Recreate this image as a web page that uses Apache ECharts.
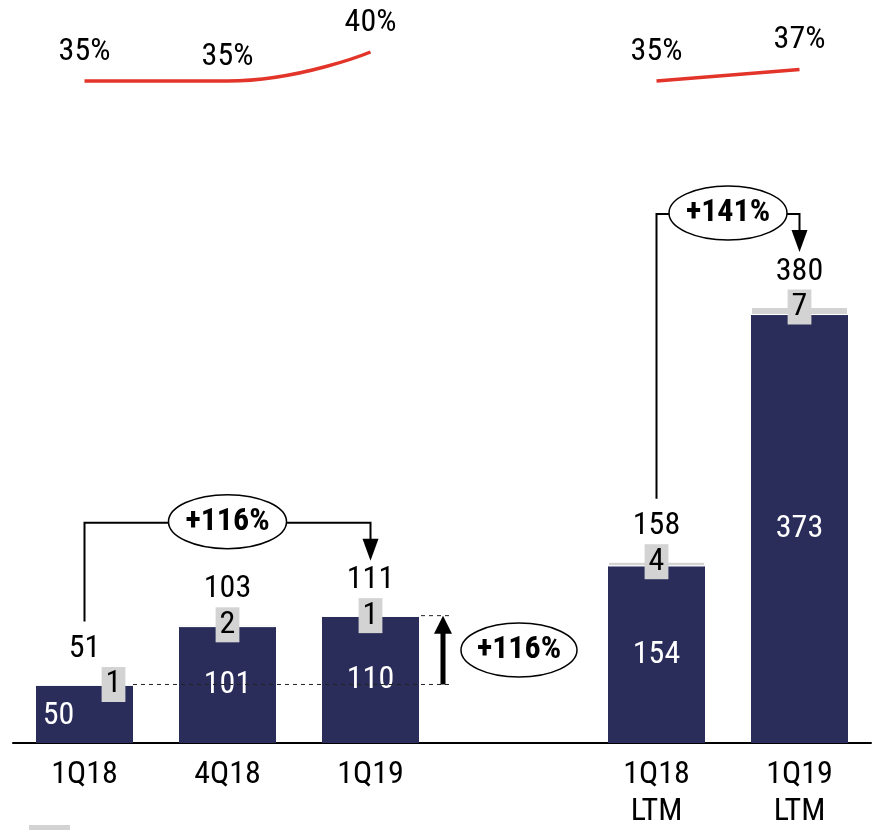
<!DOCTYPE html>
<html>
<head>
<meta charset="utf-8">
<script src="https://cdn.jsdelivr.net/npm/echarts@6/dist/echarts.min.js"></script>
<style>
html,body{margin:0;padding:0;background:#fff;}
#chart{width:875px;height:830px;}
</style>
</head>
<body>
<div id="chart"></div>
<script>
// ---- data ----
const categories = ['1Q18', '4Q18', '1Q19', '', '1Q18\nLTM', '1Q19\nLTM'];
const coreValues = [50, 101, 110, null, 154, 373];
const otherValues = [1, 2, 1, null, 4, 7];
const totalValues = [51, 103, 111, null, 158, 380];
const marginPct = [35, 35, 40, null, 35, 37];
const growthQuarter = '+116%';
const growthLTM = '+141%';
const growthSide = '+116%';

// ---- styles ----
const FONT = "Roboto, 'Open Sans', sans-serif";
const NARROW = 'normal condensed';   // canvas font-stretch via the weight slot
const FS = 32;
const NAVY = '#2a2c5a';
const GREY = '#d3d3d3';
const RED = '#e3342a';

const chart = echarts.init(document.getElementById('chart'), null, {renderer: 'canvas'});

const coreData = coreValues.map((v, i) => {
  if (v == null) return '-';
  const item = {value: v};
  if (i === 0) item.label = {offset: [-26, 2]};
  return item;
});
const otherData = otherValues.map((v, i) => {
  if (v == null) return '-';
  const item = {value: v};
  if (i === 0) item.label = {offset: [29, 0]};
  return item;
});
const marginLblData = marginPct.map((v, i) => {
  if (v == null) return '-';
  const item = {value: v};
  if (i === 1) item.label = {offset: [0, 5]};
  return item;
});

const txt = (extra) => Object.assign({fontSize: FS, fontFamily: FONT, fontWeight: NARROW, color: '#000'}, extra || {});

const option = {
  animation: false,
  backgroundColor: '#ffffff',
  textStyle: {fontFamily: FONT},
  legend: {
    left: 27, top: 823, padding: 0, itemWidth: 43, itemHeight: 14, icon: 'rect',
    data: ['Other'], formatter: () => ' ', selectedMode: false
  },
  grid: [
    {left: 13, right: 4, top: 307, bottom: 86},
    {left: 13, right: 4, top: 23, height: 87}
  ],
  xAxis: [
    {
      type: 'category', gridIndex: 0, data: categories,
      axisLine: {lineStyle: {color: '#000', width: 2}},
      axisTick: {show: false},
      axisLabel: txt({lineHeight: 37, margin: 13, interval: 0})
    },
    {type: 'category', gridIndex: 1, data: categories, show: false}
  ],
  yAxis: [
    {type: 'value', gridIndex: 0, min: 0, max: 380, show: false, splitLine: {show: false}},
    {type: 'value', gridIndex: 1, min: 30, max: 45, show: false, splitLine: {show: false}}
  ],
  series: [
    {
      name: 'Core', type: 'bar', stack: 's', xAxisIndex: 0, yAxisIndex: 0,
      barWidth: 97, data: coreData,
      itemStyle: {color: NAVY},
      label: Object.assign({show: true, position: 'inside'}, txt({color: '#fff'}))
    },
    {
      name: 'Other', type: 'bar', stack: 's', xAxisIndex: 0, yAxisIndex: 0,
      barWidth: 97, data: otherData,
      itemStyle: {color: GREY, borderColor: '#fff', borderWidth: 1},
      label: Object.assign({
        show: true, position: ['50%', '0%'], align: 'center', verticalAlign: 'middle',
        lineHeight: 33, backgroundColor: GREY, padding: [1, 4, 1, 4]
      }, txt())
    },
    {
      name: 'Total', type: 'scatter', xAxisIndex: 0, yAxisIndex: 0,
      data: totalValues.map(v => v == null ? '-' : v),
      symbolSize: 1, itemStyle: {color: 'rgba(0,0,0,0)', opacity: 1},
      label: Object.assign({show: true, position: 'top', distance: 19}, txt())
    },
    {
      name: 'Margin', type: 'line', xAxisIndex: 1, yAxisIndex: 1,
      data: marginPct.map(v => v == null ? '-' : v),
      smooth: true, connectNulls: false, showSymbol: false, symbol: 'none',
      lineStyle: {color: RED, width: 3.5},
      label: {show: false}
    },
    {
      name: 'MarginLbl', type: 'scatter', xAxisIndex: 1, yAxisIndex: 1,
      data: marginLblData,
      symbolSize: 1, itemStyle: {color: 'rgba(0,0,0,0)', opacity: 1},
      label: Object.assign({show: true, position: 'top', distance: 13, formatter: p => p.value + '%'}, txt())
    }
  ]
};
chart.setOption(option);

// ---- annotations positioned through the chart's own scales ----
function px(ci, v) { return chart.convertToPixel({xAxisIndex: 0, yAxisIndex: 0}, [ci, v]); }
const halfBar = 48.5;
const els = [];
const BOLD = "bold condensed 32px " + FONT;

function bracket(i0, i1, label) {
  const a = px(i0, totalValues[i0]);
  const b = px(i1, totalValues[i1]);
  const level = Math.min(a[1], b[1]) - 93;
  const leftBottom = a[1] - 63;
  const tip = b[1] - 55;
  els.push({type: 'polyline', shape: {points: [[a[0], leftBottom], [a[0], level], [b[0], level], [b[0], tip - 18]]},
    style: {stroke: '#000', lineWidth: 2, fill: null}, z: 10});
  els.push({type: 'polygon', shape: {points: [[b[0] - 8, tip - 22], [b[0] + 8, tip - 22], [b[0], tip]]},
    style: {fill: '#000'}, z: 10});
  const cx = (a[0] + b[0]) / 2;
  els.push({type: 'ellipse', shape: {cx: cx, cy: level - 1, rx: 59, ry: 27},
    style: {fill: '#fff', stroke: '#000', lineWidth: 1.5}, z: 11});
  els.push({type: 'text', x: cx, y: level - 1, style: {text: label, font: BOLD, fill: '#000', align: 'center', verticalAlign: 'middle'}, z: 12});
}
bracket(0, 2, growthQuarter);
bracket(4, 5, growthLTM);

(function () {
  const base = px(0, totalValues[0]);
  const top = px(2, totalValues[2]);
  const ax = top[0] + halfBar + 24;
  els.push({type: 'line', shape: {x1: base[0] + halfBar, y1: base[1], x2: ax + 8, y2: base[1]},
    style: {stroke: '#222', lineWidth: 1, lineDash: [4, 4]}, z: 9});
  els.push({type: 'line', shape: {x1: top[0] + halfBar + 2, y1: top[1], x2: ax + 8, y2: top[1]},
    style: {stroke: '#222', lineWidth: 1, lineDash: [4, 4]}, z: 9});
  els.push({type: 'line', shape: {x1: ax, y1: base[1], x2: ax, y2: top[1] + 16},
    style: {stroke: '#000', lineWidth: 5}, z: 10});
  els.push({type: 'polygon', shape: {points: [[ax - 9, top[1] + 18], [ax + 9, top[1] + 18], [ax, top[1]]]},
    style: {fill: '#000'}, z: 10});
  const cy = (base[1] + top[1]) / 2;
  els.push({type: 'ellipse', shape: {cx: ax + 76, cy: cy, rx: 58, ry: 27},
    style: {fill: '#fff', stroke: '#000', lineWidth: 1.5}, z: 11});
  els.push({type: 'text', x: ax + 76, y: cy, style: {text: growthSide, font: BOLD, fill: '#000', align: 'center', verticalAlign: 'middle'}, z: 12});
})();

chart.setOption({graphic: {elements: els}});
</script>
</body>
</html>
